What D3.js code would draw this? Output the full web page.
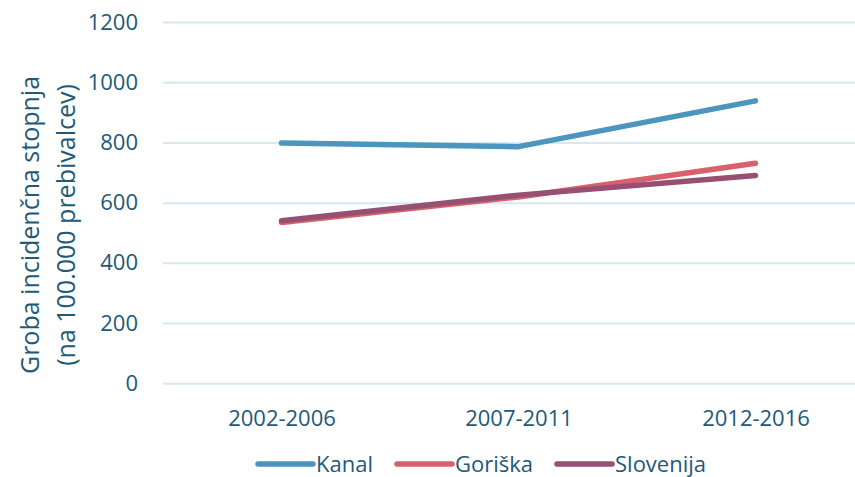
<!DOCTYPE html>
<html>
<head>
<meta charset="utf-8">
<script src="https://cdn.jsdelivr.net/npm/d3@7"></script>
<style>
  html, body { margin: 0; padding: 0; background: #fff; }
  svg { display: block; }
  text { font-family: "Open Sans", "Noto Sans", sans-serif; fill: #215A78; }
</style>
</head>
<body>
<svg id="chart" width="855" height="477"></svg>
<script>
const categories = ["2002-2006", "2007-2011", "2012-2016"];
const seriesNames = ["Kanal", "Goriška", "Slovenija"];
const kanal = [798, 786, 938];
const goriska = [534, 619, 731];
const slovenija = [540, 625, 690];
const yTicks = [0, 200, 400, 600, 800, 1000, 1200];
const yTitle = ["Groba incidenčna stopnja", "(na 100.000 prebivalcev)"];
const colors = ["#4B95BE", "#D9616B", "#974F73"];

(function () {
const series = [kanal, goriska, slovenija];

const svg = d3.select("#chart");
const plotL = 163, plotR = 874, plotT = 22, plotB = 383.3;

const x = d3.scalePoint().domain(categories).range([plotL, plotR]).padding(0.5);
const y = d3.scaleLinear().domain([0, 1200]).range([plotB, plotT]);

// y axis + gridlines
const yAxis = svg.append("g")
  .attr("transform", `translate(${plotL},0)`)
  .call(d3.axisLeft(y).tickValues(yTicks).tickSize(-(plotR - plotL)).tickPadding(25).tickFormat(d3.format("d")));
yAxis.select(".domain").remove();
yAxis.selectAll(".tick line").attr("stroke", "#D6E8F2").attr("stroke-width", 2);
yAxis.selectAll(".tick text").attr("font-size", 22).attr("fill", "#215A78")
  .style("font-family", '"Open Sans", sans-serif');

// x axis
const xAxis = svg.append("g")
  .attr("transform", `translate(0,${plotB})`)
  .call(d3.axisBottom(x).tickSize(0).tickPadding(27));
xAxis.select(".domain").remove();
xAxis.selectAll(".tick text").attr("font-size", 22).attr("fill", "#215A78")
  .style("font-family", '"Open Sans", sans-serif');

// y title
const title = svg.append("text")
  .attr("transform", `translate(39,225) rotate(-90)`)
  .attr("text-anchor", "middle")
  .attr("font-size", 25);
yTitle.forEach((t, i) => {
  title.append("tspan").attr("x", 0).attr("dy", i === 0 ? 0 : 36).text(t);
});

// lines
const line = d3.line().x((d, i) => x(categories[i])).y(d => y(d));
series.forEach((s, k) => {
  svg.append("path")
    .datum(s)
    .attr("d", line)
    .attr("fill", "none")
    .attr("stroke", colors[k])
    .attr("stroke-width", 5.5)
    .attr("stroke-linecap", "round")
    .attr("stroke-linejoin", "round");
});

// legend
const legend = svg.append("g");
let lx = 258;
const ly = 464;
seriesNames.forEach((name, k) => {
  legend.append("line")
    .attr("x1", lx).attr("x2", lx + 55)
    .attr("y1", ly).attr("y2", ly)
    .attr("stroke", colors[k]).attr("stroke-width", 5.5).attr("stroke-linecap", "round");
  const t = legend.append("text")
    .attr("x", lx + 58).attr("y", ly + 7.5)
    .attr("font-size", 22)
    .text(name);
  const w = t.node().getComputedTextLength();
  lx = lx + 58 + w + 24;
});
})();
</script>
</body>
</html>
